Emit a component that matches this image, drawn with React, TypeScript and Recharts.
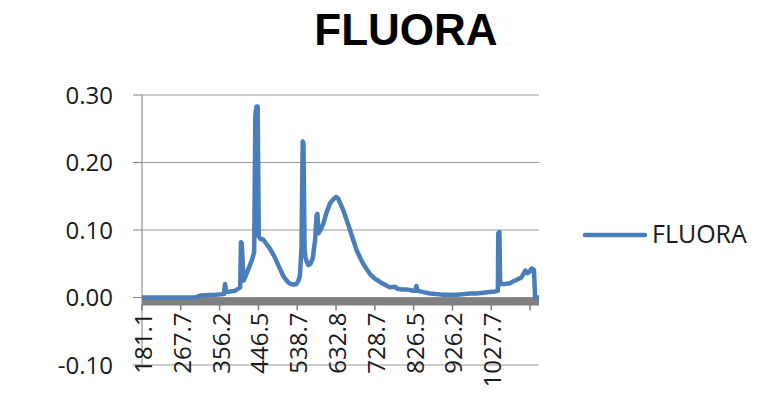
import React from "react";
import {
  LineChart,
  Line,
  XAxis,
  YAxis,
  CartesianGrid,
  ReferenceArea,
} from "recharts";

// sample number (row of the sheet) and the measured value
const sampleIdx = [
  0, 137, 150, 188, 211, 214, 217, 240, 253, 255, 257, 262, 268, 276, 283,
  289, 292, 295, 298, 301, 305, 312, 320, 330, 340, 348, 356, 363, 370, 376,
  383, 390, 398, 404, 407, 411, 414, 416, 419, 421, 425, 429, 434, 440, 446,
  450, 452, 455, 460, 467, 475, 484, 492, 500, 505, 512, 519, 527, 536, 545,
  553, 562, 570, 579, 587, 600, 613, 626, 639, 652, 658, 670, 682, 698, 704,
  707, 710, 725, 742, 760, 776, 795, 812, 830, 845, 862, 879, 895, 910, 917,
  918, 921, 923, 935, 948, 957, 965, 972, 978, 984, 988, 993, 998, 1004, 1010,
  1013, 1023,
];
const fluora = [
  0.0, 0.0, 0.003, 0.004, 0.005, 0.02, 0.008, 0.01, 0.015, 0.082, 0.08, 0.025,
  0.033, 0.045, 0.055, 0.067, 0.27, 0.283, 0.283, 0.09, 0.087, 0.086, 0.08,
  0.072, 0.062, 0.052, 0.042, 0.033, 0.027, 0.023, 0.02, 0.019, 0.02, 0.026,
  0.033, 0.075, 0.231, 0.228, 0.07, 0.06, 0.052, 0.048, 0.05, 0.058, 0.085,
  0.122, 0.124, 0.095, 0.1, 0.109, 0.125, 0.139, 0.145, 0.149, 0.147, 0.138,
  0.129, 0.115, 0.1, 0.084, 0.07, 0.059, 0.05, 0.042, 0.035, 0.028, 0.023,
  0.019, 0.015, 0.016, 0.013, 0.012, 0.012, 0.01, 0.01, 0.017, 0.01, 0.008,
  0.006, 0.005, 0.004, 0.004, 0.004, 0.005, 0.006, 0.006, 0.007, 0.008, 0.009,
  0.01, 0.095, 0.097, 0.02, 0.02, 0.021, 0.024, 0.026, 0.028, 0.03, 0.036,
  0.04, 0.036, 0.038, 0.043, 0.041, 0.0, 0.0,
];

// wavelength shown every 100 samples
const waveLabels = [
  "181.1", "267.7", "356.2", "446.5", "538.7",
  "632.8", "728.7", "826.5", "926.2", "1027.7",
];
const xTicks = [0, 100, 200, 300, 400, 500, 600, 700, 800, 900, 1000];
const yTicks = [-0.1, 0, 0.1, 0.2, 0.3];

const data = sampleIdx.map((idx, i) => ({ idx, fluora: fluora[i] }));

const W = 768;
const H = 404;
const PLOT_TOP = 95;
const PLOT_BOTTOM = 365;
const PLOT_LEFT = 142;
const PLOT_RIGHT = 539;
const Y_MIN = -0.1;
const Y_MAX = 0.3;
const BLUE = "#4A7EBB";
const GREY = "#808080";
const FONT = "'Open Sans', sans-serif";

// y pixel of value 0 (where Excel put the category axis)
const zeroY =
  PLOT_TOP + ((Y_MAX - 0) / (Y_MAX - Y_MIN)) * (PLOT_BOTTOM - PLOT_TOP);

const XTick = (props: any) => {
  const { x, payload } = props;
  const k = Math.round(payload.value / 100);
  const label = waveLabels[k] ?? "";
  return (
    <g>
      <line x1={x} x2={x} y1={zeroY + 7} y2={zeroY + 13} stroke={GREY} strokeWidth={1.5} />
      <text
        transform={`translate(${x + 10},${zeroY + 15}) rotate(-90)`}
        textAnchor="end"
        fontSize={24}
        fontFamily={FONT}
        fill="#1a1a1a"
      >
        {label}
      </text>
    </g>
  );
};

export default function App() {
  return (
    <div style={{ position: "absolute", left: 0, top: 0, width: W, height: H, background: "#fff" }}>
      <LineChart
        width={W}
        height={H}
        data={data}
        margin={{ top: PLOT_TOP, right: W - PLOT_RIGHT, left: 0, bottom: 0 }}
      >
        <CartesianGrid vertical={false} stroke="#9a9a9a" strokeWidth={1} />
        <XAxis
          dataKey="idx"
          type="number"
          domain={[0, 1023]}
          ticks={xTicks}
          interval={0}
          height={H - PLOT_BOTTOM}
          axisLine={false}
          tickLine={false}
          tick={<XTick />}
          allowDataOverflow
        />
        <YAxis
          width={PLOT_LEFT}
          domain={[Y_MIN, Y_MAX]}
          ticks={yTicks}
          interval={0}
          tickFormatter={(v: number) => v.toFixed(2)}
          axisLine={{ stroke: GREY, strokeWidth: 1 }}
          tickLine={{ stroke: GREY, strokeWidth: 1 }}
          tickSize={9}
          tickMargin={20}
          tick={{ fontSize: 24, fontFamily: FONT, fill: "#1a1a1a" }}
        />
        <ReferenceArea
          y1={-0.012}
          y2={0}
          fill={GREY}
          fillOpacity={1}
          stroke="none"
          ifOverflow="visible"
        />
        <Line
          type="linear"
          dataKey="fluora"
          stroke={BLUE}
          strokeWidth={4.5}
          strokeLinejoin="round"
          dot={false}
          isAnimationActive={false}
        />
      </LineChart>
      <svg
        width={W}
        height={H}
        style={{ position: "absolute", left: 0, top: 0, pointerEvents: "none" }}
      >
        <text
          x={406}
          y={45}
          textAnchor="middle"
          fontSize={44}
          fontWeight={700}
          fontFamily="'Liberation Sans', Arial, sans-serif"
          fill="#000"
        >
          FLUORA
        </text>
        <line x1={585} x2={645} y1={235} y2={235} stroke={BLUE} strokeWidth={4.5} strokeLinecap="round" />
        <text x={652} y={243} fontSize={25} fontFamily={FONT} fill="#1a1a1a">
          FLUORA
        </text>
      </svg>
    </div>
  );
}
